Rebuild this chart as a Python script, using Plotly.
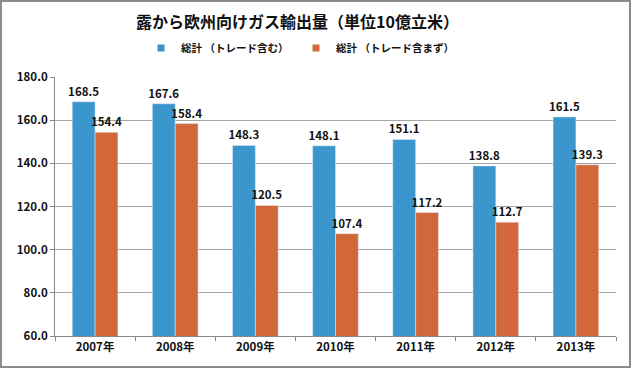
import plotly.graph_objects as go

years = ["2007年", "2008年", "2009年", "2010年", "2011年", "2012年", "2013年"]
total_with_trade = [168.5, 167.6, 148.3, 148.1, 151.1, 138.8, 161.5]
total_without_trade = [154.4, 158.4, 120.5, 107.4, 117.2, 112.7, 139.3]
series_names = ["総計 （トレード含む）", "総計 （トレード含まず）"]

W, H = 633, 370
L, R, T, B = 55, 17, 77, 34
pw, ph = W - L - R, H - T - B

font_family = "Noto Sans CJK JP"
blue = "#3A96CD"
orange = "#D2683A"
label_font = dict(family=font_family, size=11.5, color="#111111", weight="bold")

fig = go.Figure()
for vals, name, col in [(total_with_trade, series_names[0], blue),
                        (total_without_trade, series_names[1], orange)]:
    fig.add_trace(go.Bar(
        x=years, y=vals, name=name, legendgroup=name, showlegend=False,
        marker=dict(color=col),
        text=[f"{v:.1f}" for v in vals], textposition="outside",
        constraintext="none",
        textfont=label_font, cliponaxis=False,
    ))
    # legend entry with a small square symbol
    fig.add_trace(go.Scatter(
        x=[None], y=[None], mode="markers", name=name, legendgroup=name,
        marker=dict(symbol="square", size=7, color=col),
    ))

def px_to_paper_x(px):
    return (px - L) / pw

def px_to_paper_y(py):
    return (H - B - py) / ph

fig.update_layout(
    width=W, height=H,
    margin=dict(l=L, r=R, t=T, b=B, autoexpand=False),
    paper_bgcolor="white", plot_bgcolor="white",
    barmode="group", bargap=0.43, bargroupgap=0,
    font=dict(family=font_family, color="#111111"),
    title=dict(
        text="<b>露から欧州向けガス輸出量（単位10億立米）</b>",
        x=0.47, xanchor="center", xref="container",
        y=1 - 22 / H, yanchor="middle", yref="container",
        font=dict(size=16, family=font_family, color="#111111"),
    ),
    legend=dict(
        orientation="h", xref="container", yref="container",
        x=(186 - 45) / W, xanchor="left",
        y=1 - 48 / H, yanchor="middle",
        font=dict(size=10.5, family=font_family, color="#111111", weight="bold"),
        itemwidth=30, entrywidth=110, entrywidthmode="pixels",
        bgcolor="rgba(0,0,0,0)",
    ),
    xaxis=dict(
        automargin=False,
        showline=True, linecolor="#888888", linewidth=1,
        ticks="outside", tickson="boundaries", ticklen=4, tickcolor="#888888",
        tickfont=dict(size=11.5, family=font_family, color="#111111", weight="bold"),
        showgrid=False,
    ),
    yaxis=dict(
        automargin=False,
        range=[60, 180], dtick=20, tickformat=".1f",
        showline=True, linecolor="#888888", linewidth=1,
        ticks="outside", ticklen=4, tickcolor="#888888",
        showgrid=True, gridcolor="#A6A6A6", gridwidth=1,
        tickfont=dict(size=11.5, family=font_family, color="#111111", weight="bold"),
        zeroline=False,
    ),
    shapes=[dict(
        type="rect", xref="paper", yref="paper",
        x0=px_to_paper_x(1), x1=px_to_paper_x(630),
        y0=px_to_paper_y(367), y1=px_to_paper_y(1),
        line=dict(color="#8C8C8C", width=2), fillcolor="rgba(0,0,0,0)", layer="below",
    )],
)

fig.write_html(
    "out.html",
    config={"displayModeBar": False},
    post_script="document.body.style.margin='0';document.body.style.padding='0';",
)
